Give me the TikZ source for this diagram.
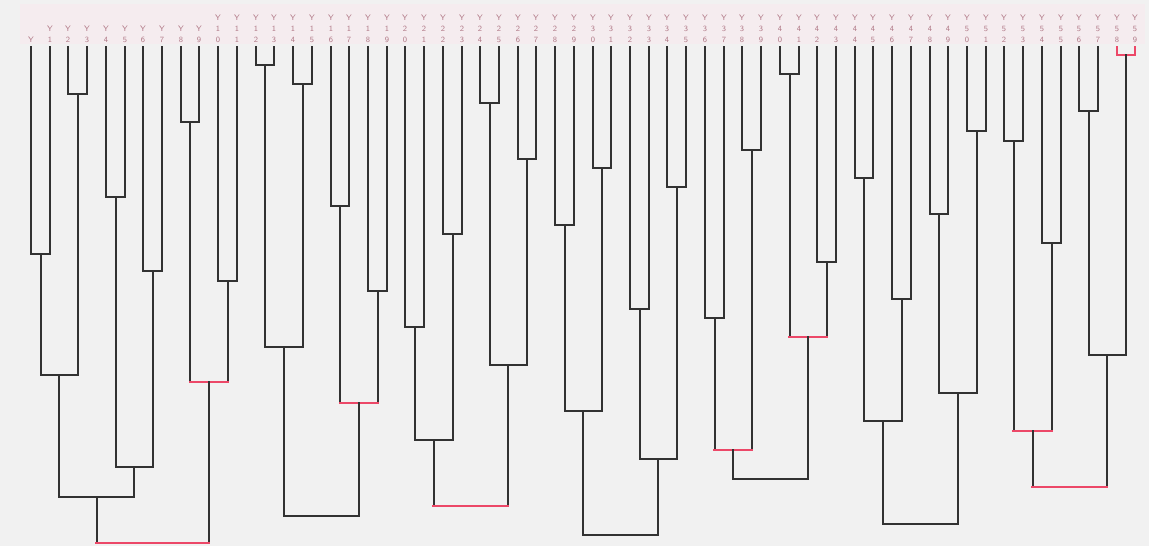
\documentclass[tikz,border=0pt]{standalone}
\usetikzlibrary{calc}
\definecolor{bg}{RGB}{241,241,241}
\definecolor{band}{RGB}{245,236,239}
\definecolor{ln}{RGB}{50,50,50}
\definecolor{hl}{RGB}{236,72,104}
\definecolor{lb}{RGB}{176,120,134}
\tikzset{
  link/.style={draw=ln, line width=2pt, line cap=rect},
  plain/.style={draw=ln, line width=2pt, line cap=rect},
  hot/.style={draw=hl, line width=2.2pt, line cap=rect},
  lbl/.style={text=lb, font=\fontsize{8}{11}\selectfont\sffamily, inner sep=0pt, anchor=south, align=center},
}
\newcommand\dmerge[5]{%
  \path ($(#2)!0.5!(#3)$) coordinate (#1c);
  \coordinate (#1) at (#1c |- 0,#4);
  \draw[link] (#2) -- (#2 |- #1);
  \draw[link] (#3) -- (#3 |- #1);
  \draw[#5] (#2 |- #1) -- (#3 |- #1);
}
\begin{document}
\begin{tikzpicture}[x=1pt,y=-1pt]
\useasboundingbox[fill=bg] (0,0) rectangle (1149,546);
\fill[band] (20,4) rectangle (1145,44);
\foreach \i in {0,...,59}{
  \pgfmathtruncatemacro\tn{int(\i/10)}
  \pgfmathtruncatemacro\on{mod(\i,10)}
  \pgfmathtruncatemacro\xx{round(31+18.72*\i)}
  \coordinate (l\i) at (\xx,47);
  \node[lbl] (t\i) at (\xx,43) {\ifnum\i=0 Y\else\ifnum\i<10 Y\\\on\else Y\\\tn\\\on\fi\fi};
}
% cluster A
\dmerge{m0}{l2}{l3}{94}{plain}
\dmerge{m1}{l0}{l1}{254}{plain}
\dmerge{m2}{l4}{l5}{197}{plain}
\dmerge{m3}{l6}{l7}{271}{plain}
\dmerge{m4}{l8}{l9}{122}{plain}
\dmerge{m5}{m1}{m0}{375}{plain}
\dmerge{m6}{m2}{m3}{467}{plain}
\dmerge{m7}{m5}{m6}{497}{plain}
\dmerge{m8}{l10}{l11}{281}{plain}
\dmerge{m9}{m4}{m8}{382}{hot}
\dmerge{m10}{m7}{m9}{543}{hot}
% cluster B
\dmerge{m11}{l12}{l13}{65}{plain}
\dmerge{m12}{l14}{l15}{84}{plain}
\dmerge{m13}{m11}{m12}{347}{plain}
\dmerge{m14}{l16}{l17}{206}{plain}
\dmerge{m15}{l18}{l19}{291}{plain}
\dmerge{m16}{m14}{m15}{403}{hot}
\dmerge{m17}{m13}{m16}{516}{plain}
% cluster C
\dmerge{m18}{l20}{l21}{327}{plain}
\dmerge{m19}{l22}{l23}{234}{plain}
\dmerge{m20}{m18}{m19}{440}{plain}
\dmerge{m21}{l24}{l25}{103}{plain}
\dmerge{m22}{l26}{l27}{159}{plain}
\dmerge{m23}{m21}{m22}{365}{plain}
\dmerge{m24}{m20}{m23}{506}{hot}
% cluster D
\dmerge{m25}{l28}{l29}{225}{plain}
\dmerge{m26}{l30}{l31}{168}{plain}
\dmerge{m27}{m25}{m26}{411}{plain}
\dmerge{m28}{l32}{l33}{309}{plain}
\dmerge{m29}{l34}{l35}{187}{plain}
\dmerge{m30}{m28}{m29}{459}{plain}
\dmerge{m31}{m27}{m30}{535}{plain}
% cluster E
\dmerge{m32}{l36}{l37}{318}{plain}
\dmerge{m33}{l38}{l39}{150}{plain}
\dmerge{m34}{m32}{m33}{450}{hot}
\dmerge{m35}{l40}{l41}{74}{plain}
\dmerge{m36}{l42}{l43}{262}{plain}
\dmerge{m37}{m35}{m36}{337}{hot}
\dmerge{m38}{m34}{m37}{479}{plain}
% cluster F
\dmerge{m39}{l44}{l45}{178}{plain}
\dmerge{m40}{l46}{l47}{299}{plain}
\dmerge{m41}{m39}{m40}{421}{plain}
\dmerge{m42}{l48}{l49}{214}{plain}
\dmerge{m43}{l50}{l51}{131}{plain}
\dmerge{m44}{m42}{m43}{393}{plain}
\dmerge{m45}{m41}{m44}{524}{plain}
% cluster G
\dmerge{m46}{l52}{l53}{141}{plain}
\dmerge{m47}{l54}{l55}{243}{plain}
\dmerge{m48}{m46}{m47}{431}{hot}
\dmerge{m49}{l56}{l57}{111}{plain}
\dmerge{m50}{l58}{l59}{55}{hot}
\draw[hot] (l58) |- (m50) -| (l59);
\dmerge{m51}{m49}{m50}{355}{plain}
\dmerge{m52}{m48}{m51}{487}{hot}
\end{tikzpicture}
\end{document}
